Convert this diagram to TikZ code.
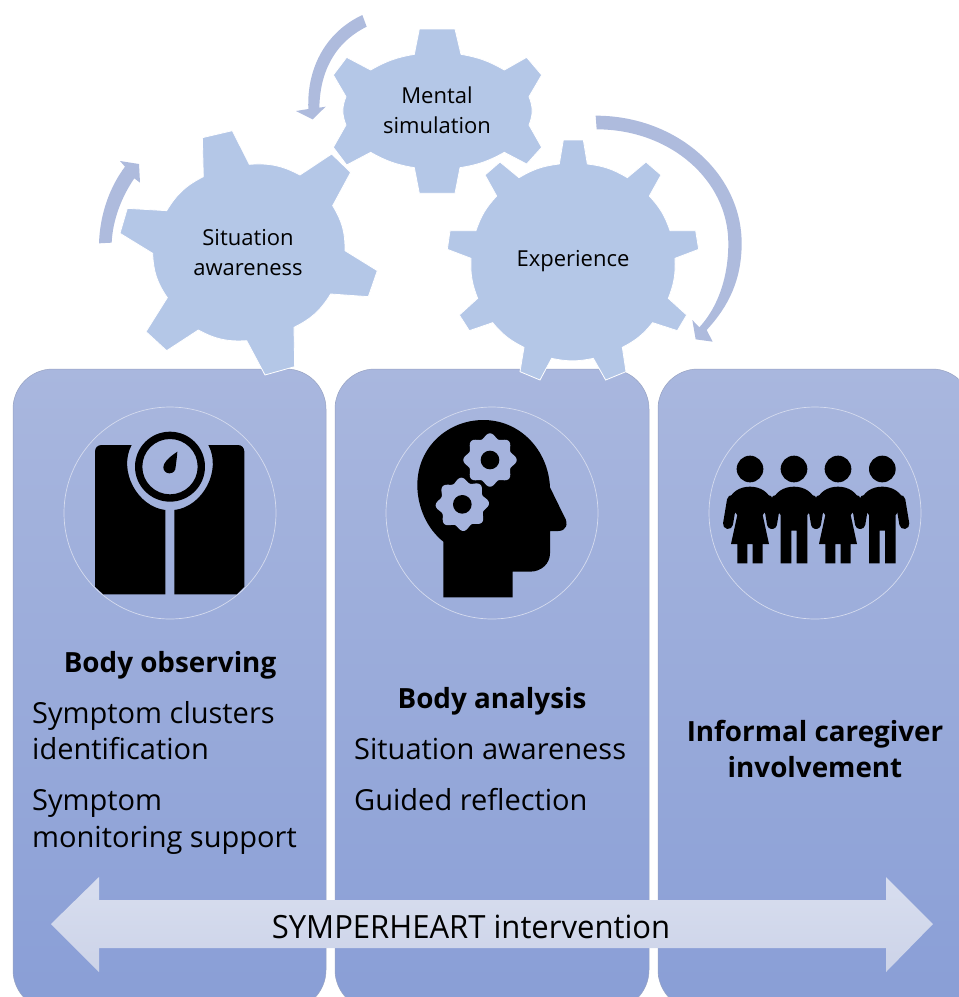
\documentclass[tikz,border=0pt]{standalone}
\usepackage{fontspec}
\setmainfont{Open Sans}
\definecolor{gearblue}{HTML}{B4C7E7}
\definecolor{arrowblue}{HTML}{AEBBDD}
\definecolor{boxtop}{HTML}{A9B7DE}
\definecolor{boxbot}{HTML}{899ED6}
\definecolor{boxedge}{HTML}{98A3C2}
\definecolor{ringline}{HTML}{D5DBEE}
\definecolor{iconbg}{HTML}{A5B3DD}
\definecolor{dbltop}{HTML}{D8DEEF}
\definecolor{dblbot}{HTML}{CCD3E8}
\newcommand{\personF}[1]{%
  \fill (#1,207) circle (40);
  \draw[armline] (#1-54,300) -- (#1-66,372);
  \draw[armline] (#1+54,300) -- (#1+66,372);
  \fill (#1-68,310) .. controls (#1-58,275) and (#1-30,260) .. (#1,260) .. controls (#1+30,260) and (#1+58,275) .. (#1+68,310) -- (#1+38,345) -- (#1+57,432) -- (#1+38,432) -- (#1+38,490) -- (#1+8,490) -- (#1+8,432) -- (#1-8,432) -- (#1-8,490) -- (#1-38,490) -- (#1-38,432) -- (#1-57,432) -- (#1-38,345) -- cycle;
}
\newcommand{\personM}[1]{%
  \fill (#1,207) circle (40);
  \draw[armline] (#1-54,300) -- (#1-66,372);
  \draw[armline] (#1+54,300) -- (#1+66,372);
  \fill (#1-68,310) .. controls (#1-58,275) and (#1-30,260) .. (#1,260) .. controls (#1+30,260) and (#1+58,275) .. (#1+68,310) -- (#1+40,345) -- (#1+40,490) -- (#1+8,490) -- (#1+8,392) -- (#1-8,392) -- (#1-8,490) -- (#1-40,490) -- (#1-40,345) -- cycle;
}
\begin{document}
\begin{tikzpicture}[x=1pt,y=-1pt,
  panel/.style={rounded corners=40pt,draw=boxedge,line width=.5pt,top color=boxtop,bottom color=boxbot},
  gear/.style={fill=gearblue,draw=white,line width=.8pt,line join=miter},
  curved/.style={fill=arrowblue},
  ring/.style={draw=ringline,line width=.7pt},
  armline/.style={line width=10pt,line cap=round,black},
  gearlabel/.style={font=\fontsize{22}{30}\selectfont,align=center,text=black,inner sep=0pt},
  headline/.style={font=\fontsize{27.8}{36}\bfseries\selectfont,align=center,text=black,inner sep=0pt},
  bodytext/.style={font=\fontsize{29}{36}\selectfont,align=left,text=black,inner sep=0pt,anchor=base west}]
\useasboundingbox (0,0) rectangle (959,997);
% panels
\path[panel] (13,369) rectangle (326,1010);
\path[panel] (335,369) rectangle (649,1010);
\path[panel] (658,369) rectangle (972,1010);
% circles
\draw[ring] (170,513) circle (106);
\draw[ring] (492,513) circle (106);
\draw[ring] (815,513) circle (106);
% scale icon
\begin{scope}[shift={(50,400)},scale=1/3]
  \fill (155,135) -- (245,135) to[bend right=56] (346,330) -- (346,583) -- (160,583) -- (135,560) -- (135,155) .. controls (135,143) and (143,135) .. (155,135) -- cycle;
  \fill (563,135) -- (475,135) to[bend left=56] (373,330) -- (373,583) -- (560,583) -- (583,560) -- (583,155) .. controls (583,143) and (575,135) .. (563,135) -- cycle;
  \fill[even odd rule] (360,200) circle (105) (360,200) circle (83);
  \fill (382,155) .. controls (352,175) and (340,190) .. (340,202) .. controls (340,212) and (348,220) .. (358,220) .. controls (370,220) and (377,212) .. (377,200) .. controls (379,185) and (381,170) .. (382,155) -- cycle;
\end{scope}
% head icon
\begin{scope}[shift={(380,400)},scale=1/3]
  \fill (190,592) -- (190,425) .. controls (140,385) and (112,320) .. (112,255) .. controls (112,140) and (205,60) .. (310,60) .. controls (420,60) and (505,150) .. (510,262) -- (553,350) .. controls (567,372) and (558,393) .. (535,393) -- (510,393) -- (510,460) .. controls (510,490) and (485,515) .. (450,515) -- (398,515) -- (398,592) -- cycle;
  \begin{scope}[shift={(330,180)}]
    \fill[iconbg] plot[domain=0:360,samples=145] (\x:{73+7*cos(8*\x)}) -- cycle;
    \fill (0,0) circle (28);
  \end{scope}
  \begin{scope}[shift={(247,313)}]
    \fill[iconbg] plot[domain=0:360,samples=145] (\x:{73+7*cos(8*\x+20)}) -- cycle;
    \fill (0,0) circle (28);
  \end{scope}
\end{scope}
% people icon
\begin{scope}[shift={(700,400)},scale=1/3]
  \personF{150}
  \personM{282}
  \personF{414}
  \personM{547}
\end{scope}
% gears
\begin{scope}[shift={(90,0)},scale=1/3]
  \path[gear] (337,413) -- (427,392) -- (478,493) to[bend left=16] (630,525) -- (725,462) -- (782,517) -- (728,617) to[bend left=16] (765,752) -- (862,812) -- (835,890) -- (722,882) to[bend left=16] (612,982) -- (614,1100) -- (525,1125) -- (470,1022) to[bend left=16] (325,990) -- (230,1052) -- (168,995) -- (232,893) to[bend left=16] (188,760) -- (90,700) -- (112,625) -- (230,632) to[bend left=16] (340,530) -- cycle;
\end{scope}
\begin{scope}[shift={(320,20)},scale=1/3]
  \path[gear] (298,27) -- (405,27) -- (423,103) to[bend left=10] (553,150) -- (620,112) -- (665,165) -- (627,230) to[bend left=22] (627,315) -- (665,382) -- (620,432) -- (553,397) to[bend left=10] (420,443) -- (405,520) -- (298,520) -- (283,443) to[bend left=10] (152,397) -- (80,435) -- (40,382) -- (78,315) to[bend left=22] (78,230) -- (40,165) -- (80,112) -- (152,150) to[bend left=10] (283,103) -- cycle;
\end{scope}
\begin{scope}[shift={(430,100)},scale=1/3]
  \path[gear] (400,120) -- (460,120) -- (472,192) to[bend left=12] (592,233) -- (648,186) -- (693,225) -- (658,288) to[bend left=12] (720,392) -- (797,392) -- (806,448) -- (735,475) to[bend left=12] (715,595) -- (770,645) -- (742,692) -- (668,668) to[bend left=12] (577,742) -- (588,815) -- (527,840) -- (490,775) to[bend left=12] (365,775) -- (330,840) -- (270,815) -- (282,742) to[bend left=12] (188,668) -- (118,692) -- (88,645) -- (143,595) to[bend left=12] (123,475) -- (52,448) -- (60,392) -- (138,392) to[bend left=12] (200,288) -- (165,225) -- (210,186) -- (267,233) to[bend left=12] (388,192) -- cycle;
\end{scope}
% curved arrows
\begin{scope}[shift={(90,150)},scale=1/3]
  \path[curved] (27,280) .. controls (30,190) and (60,110) .. (105,50) -- (90,33) -- (147,42) -- (150,98) -- (133,85) .. controls (95,140) and (68,210) .. (65,278) -- cycle;
\end{scope}
\begin{scope}[shift={(290,10)},scale=1/3]
  \path[curved] (217,15) .. controls (110,65) and (50,170) .. (55,297) -- (18,303) -- (68,328) -- (107,290) -- (88,293) .. controls (90,190) and (130,100) .. (230,50) -- cycle;
\end{scope}
\begin{scope}[shift={(430,100)},scale=1/3]
  \path[curved] (497,47) .. controls (740,47) and (935,220) .. (935,430) .. controls (935,540) and (895,620) .. (830,690) -- (848,725) -- (797,718) -- (787,660) -- (808,682) .. controls (865,620) and (895,530) .. (895,430) .. controls (895,240) and (720,88) .. (500,88) -- cycle;
\end{scope}
% big double arrow
\path[top color=dbltop,bottom color=dblbot] (51,924) -- (99,877) -- (99,900) -- (886,900) -- (886,877) -- (933,924) -- (886,972) -- (886,948) -- (99,948) -- (99,972) -- cycle;
\node[inner sep=0pt,anchor=base,font=\fontsize{32}{36}\selectfont] (arrowlabel) at (471,938) {\scalebox{0.97}[1]{SYMPERHEART intervention}};
% gear labels
\node[gearlabel] (situation) at (248,253) {Situation\\awareness};
\node[gearlabel] (mental) at (437,110) {Mental\\simulation};
\node[gearlabel,anchor=base] (experience) at (573,266) {Experience};
% panel texts
\node[headline,anchor=base] (h1) at (170,672) {Body observing};
\node[bodytext] (a1) at (32,723) {Symptom clusters};
\node[bodytext] (a2) at (32,759) {identification};
\node[bodytext] (a3) at (32,810) {Symptom};
\node[bodytext] (a4) at (32,847) {monitoring support};
\node[headline,anchor=base] (h2) at (492,708) {Body analysis};
\node[bodytext] (b1) at (354,759) {Situation awareness};
\node[bodytext] (b2) at (354,810) {Guided reflection};
\node[headline,anchor=base] (h3a) at (815,741) {Informal caregiver};
\node[headline,anchor=base] (h3b) at (815,777) {involvement};
\end{tikzpicture}
\end{document}
